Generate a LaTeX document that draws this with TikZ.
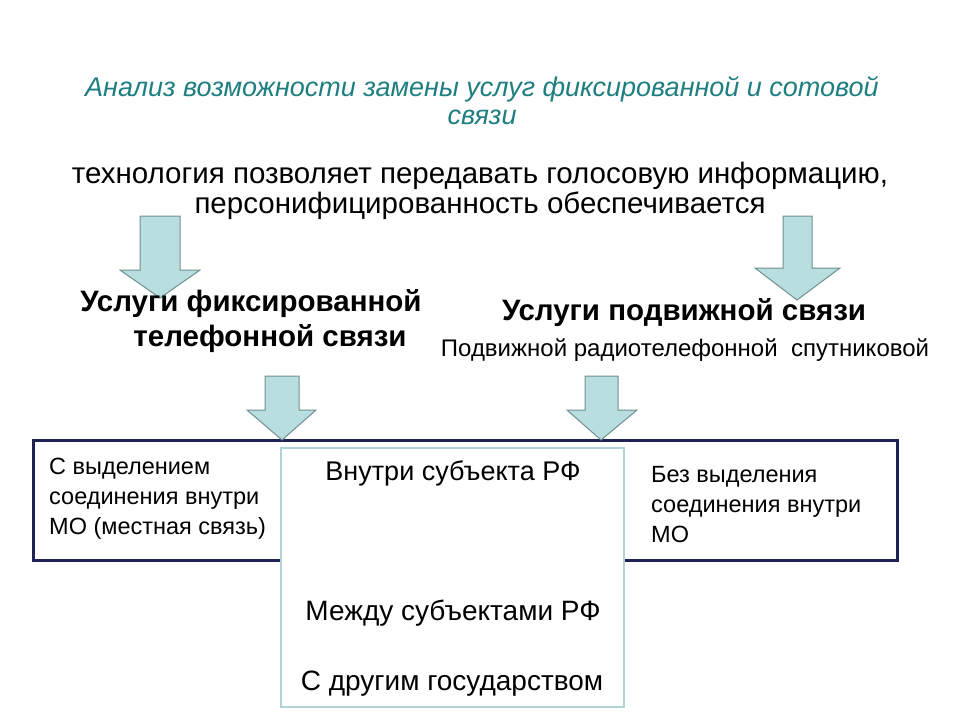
\documentclass[tikz,border=0pt]{standalone}
\usepackage{fontspec}
\setmainfont{Liberation Sans}
\definecolor{ttl}{HTML}{1F7F80}
\definecolor{arrfill}{HTML}{B9DEE0}
\definecolor{arrdraw}{HTML}{6F8F90}
\definecolor{navy}{HTML}{1F2255}
\definecolor{boxteal}{HTML}{B0D4D6}
\tikzset{
  fatarrow/.style={fill=arrfill,draw=arrdraw,line width=1pt},
  txt/.style={inner sep=0pt,align=center},
  boxtxt/.style={inner sep=0pt,align=left,font=\fontsize{23.5}{30}\selectfont}
}
\begin{document}
\begin{tikzpicture}[x=1pt,y=-1pt]
\useasboundingbox (0,0) rectangle (960,720);
\fill[white] (0,0) rectangle (960,720);
% titles
\node[txt,text=ttl,font=\itshape\fontsize{27}{28}\selectfont] (title) at (482,101) {Анализ возможности замены услуг фиксированной и сотовой\\связи};
\node[txt,font=\fontsize{29.5}{30}\selectfont] (sub) at (480,191) {технология позволяет передавать голосовую информацию,\\персонифицированность обеспечивается};
% top arrows
\draw[fatarrow] (140,216) -- (180,216) -- (180,270) -- (200,270) -- (160,298) -- (120,270) -- (140,270) -- cycle;
\draw[fatarrow] (783,216) -- (812,216) -- (812,268) -- (840,268) -- (797,300) -- (755,268) -- (783,268) -- cycle;
% headings
\node[txt,font=\bfseries\fontsize{29.5}{30}\selectfont] (fix) at (251,304) {Услуги фиксированной};
\node[txt,font=\bfseries\fontsize{29.5}{30}\selectfont] (fix2) at (270,339) {телефонной связи};
\node[txt,font=\bfseries\fontsize{29.5}{30}\selectfont] (mob) at (684,313) {Услуги подвижной связи};
\node[txt,font=\fontsize{24}{26}\selectfont] (mobsub) at (685,350) {Подвижной радиотелефонной\ \ спутниковой};
% big box
\draw[navy,line width=3pt,fill=white] (33,440) rectangle (897,560);
\node[boxtxt,anchor=north west] (left) at (49,458) {С выделением\\соединения внутри\\МО (местная связь)};
\node[boxtxt,anchor=north west] (right) at (651,466) {Без выделения\\соединения внутри\\МО};
% centre box
\draw[boxteal,line width=2pt,fill=white] (281,448) rectangle (624,707);
\node[txt,font=\fontsize{27}{28}\selectfont] (c1) at (453,473) {Внутри субъекта РФ};
\node[txt,font=\fontsize{28}{28}\selectfont] (c2) at (453,613) {Между субъектами РФ};
\node[txt,font=\fontsize{28}{28}\selectfont] (c3) at (452,684) {С другим государством};
% lower arrows
\draw[fatarrow] (265,376) -- (299,376) -- (299,410) -- (316,410) -- (282,440) -- (247,410) -- (265,410) -- cycle;
\draw[fatarrow] (585,376) -- (618,376) -- (618,410) -- (637,410) -- (601,440) -- (567,410) -- (585,410) -- cycle;
\end{tikzpicture}
\end{document}
